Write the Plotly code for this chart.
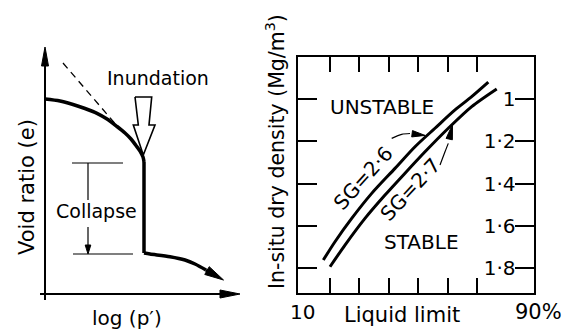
import math
import plotly.graph_objects as go

W, H = 578, 329
FONT = "DejaVu Sans"

# ---------------- Left panel: schematic collapse curve ----------------
# units: pixels measured from the axes origin (schematic, no numeric scale)
upper_logp = [0, 15, 28, 40, 52, 62, 72, 80, 86, 91, 95, 98, 99]
upper_e = [195, 193, 189.5, 185.5, 180.7, 175, 167.5, 161, 155, 148.5, 143, 137, 132]
drop_logp = [99, 99]
drop_e = [132, 41]
lower_logp = [99, 105, 125, 140, 150, 161]
lower_e = [41, 40, 37.3, 34, 30, 24]
lower_tip = (178.5, 14)
tangent_logp = [18, 73]
tangent_e = [231, 167]
axis_x_len = 195
axis_y_len = 247
inund_x = [90, 106.7, 104, 110, 98.3, 88.3, 93.3, 90]
inund_y = [197, 197, 169, 169, 139, 169, 169, 197]
collapse_top_e = 131
collapse_bot_e = 40
collapse_top_x = [27, 78]
collapse_bot_x = [28, 88]
collapse_bar_x = 43
collapse_gap = [94, 67]

# ---------------- Right panel: dry density vs liquid limit ----------------
ll_ticks = [20, 30, 40, 50, 60, 70, 80]
dens_ticks = [1.0, 1.2, 1.4, 1.6, 1.8]
dens_labels = ["1", "1·2", "1·4", "1·6", "1·8"]
sg26_ll = [17.9, 21.86, 27.53, 34.31, 42.2, 48.98, 55.76, 62.54, 68.2, 73.83]
sg26_d = [1.764, 1.677, 1.566, 1.447, 1.328, 1.225, 1.137, 1.050, 0.987, 0.918]
sg27_ll = [20.17, 25.25, 32.03, 38.81, 45.59, 52.37, 60.27, 68.2, 76.68]
sg27_d = [1.796, 1.693, 1.566, 1.455, 1.351, 1.249, 1.137, 1.034, 0.950]
lead26_ll = [41.08, 44.47, 47.29]
lead26_d = [1.185, 1.166, 1.162]
lead26_tip = (52.37, 1.171)
lead27_ll = [57.46, 59.15, 60.27]
lead27_d = [1.312, 1.249, 1.209]
lead27_tip = (61.69, 1.119)

# axis geometry (pixels)
LX0, LY0 = 45, 294          # left origin
RX_L, RX_R = 298, 533.5     # right box
RY_T, RY_B = 57, 293
X_RANGE2 = [9.32, 89.15]
Y_RANGE2 = [1.921, 0.798]
SX2 = (RX_R - RX_L) / (X_RANGE2[1] - X_RANGE2[0])
SY2 = (RY_B - RY_T) / (Y_RANGE2[0] - Y_RANGE2[1])


def tri(base, tip, sx, sy, halfw):
    bx, by = base[0] * sx, base[1] * sy
    tx, ty = tip[0] * sx, tip[1] * sy
    dx, dy = tx - bx, ty - by
    L = math.hypot(dx, dy)
    nx, ny = -dy / L * halfw, dx / L * halfw
    xs = [tx, bx + nx, bx - nx, tx]
    ys = [ty, by + ny, by - ny, ty]
    return [v / sx for v in xs], [v / sy for v in ys]


def head(base, tip, length, sx, sy, halfw):
    dx, dy = (tip[0] - base[0]) * sx, (tip[1] - base[1]) * sy
    L = math.hypot(dx, dy)
    b = (tip[0] - dx / L * length / sx, tip[1] - dy / L * length / sy)
    return tri(b, tip, sx, sy, halfw)


fig = go.Figure()
L = dict(xaxis="x", yaxis="y")
R = dict(xaxis="x2", yaxis="y2")
blk = "black"


def line(x, y, w, ax, dash="solid", shape="linear"):
    fig.add_trace(go.Scatter(x=x, y=y, mode="lines", showlegend=False, hoverinfo="skip",
                             line=dict(color=blk, width=w, dash=dash, shape=shape, smoothing=0.8),
                             **ax))


def poly(xy, ax):
    fig.add_trace(go.Scatter(x=xy[0], y=xy[1], mode="lines", fill="toself", fillcolor=blk,
                             line=dict(color=blk, width=1), showlegend=False, hoverinfo="skip", **ax))


# left axes
line([-5, axis_x_len - 18], [0, 0], 2, L)
poly(tri((axis_x_len - 20, 0), (axis_x_len, 0), 1, 1, 4), L)
line([0, 0], [-6, axis_y_len - 17], 2, L)
poly(tri((0, axis_y_len - 19), (0, axis_y_len), 1, 1, 3.5), L)
# curve
line(upper_logp, upper_e, 3.5, L, shape="spline")
line(drop_logp, drop_e, 3.5, L)
line(lower_logp, lower_e, 3.5, L, shape="spline")
poly(head((lower_logp[-1], lower_e[-1]), lower_tip, 19, 1, 1, 4.5), L)
line([lower_logp[-1], lower_tip[0] - 10], [lower_e[-1], lower_tip[1] + 5.7], 3.5, L)
line(tangent_logp, tangent_e, 1.3, L, dash="7px,5px")
line(inund_x, inund_y, 1.6, L)
# collapse marker
line(collapse_top_x, [collapse_top_e] * 2, 1.2, L)
line(collapse_bot_x, [collapse_bot_e] * 2, 1.2, L)
line([collapse_bar_x] * 2, [collapse_top_e, collapse_gap[0]], 1.2, L)
line([collapse_bar_x] * 2, [collapse_gap[1], collapse_bot_e + 6], 1.2, L)
poly(tri((collapse_bar_x, collapse_bot_e + 9), (collapse_bar_x, collapse_bot_e), 1, 1, 2.8), L)

# right panel curves
line(sg26_ll, sg26_d, 3, R, shape="spline")
line(sg27_ll, sg27_d, 3, R, shape="spline")
line(lead26_ll, lead26_d, 1.2, R, shape="spline")
poly(head((lead26_ll[-1], lead26_d[-1]), lead26_tip, 13, SX2, SY2, 3.2), R)
line(lead27_ll, lead27_d, 1.2, R, shape="spline")
poly(head((lead27_ll[-1], lead27_d[-1]), lead27_tip, 15, SX2, SY2, 3.2), R)

f = lambda s: dict(family=FONT, size=s, color=blk)
ann = [
    dict(text="Inundation", x=113.3, y=216, xref="x", yref="y", font=f(19)),
    dict(text="Collapse", x=51, y=83, xref="x", yref="y", font=f(19)),
    dict(text="Void ratio (e)", x=-18, y=107, xref="x", yref="y", textangle=-90, font=f(21)),
    dict(text="log (p′)", x=82, y=-24, xref="x", yref="y", font=f(20)),
    dict(text="UNSTABLE", x=37.7, y=1.038, xref="x2", yref="y2", font=f(20)),
    dict(text="STABLE", x=51.25, y=1.677, xref="x2", yref="y2", font=f(20)),
    dict(text="SG=2·6", x=31.46, y=1.375, xref="x2", yref="y2", textangle=-48, font=f(20)),
    dict(text="SG=2·7", x=47.56, y=1.427, xref="x2", yref="y2", textangle=-47, font=f(20)),
    dict(text="10", x=302 / W, y=1 - 312 / H, xref="paper", yref="paper", font=f(20)),
    dict(text="Liquid limit", x=402 / W, y=1 - 315 / H, xref="paper", yref="paper", font=f(21)),
    dict(text="90%", x=538 / W, y=1 - 312 / H, xref="paper", yref="paper", font=f(21)),
    dict(text="In-situ dry density (Mg/m<sup>3</sup>)", x=275 / W, y=1 - 152 / H,
         xref="paper", yref="paper", textangle=-90, font=f(20.5)),
]
for a in ann:
    a["showarrow"] = False
    a["xanchor"] = "center"
    a["yanchor"] = "middle"

hidden = dict(visible=False, showgrid=False, zeroline=False, fixedrange=True)
fig.update_layout(
    width=W, height=H, margin=dict(l=0, r=0, t=0, b=0),
    paper_bgcolor="white", plot_bgcolor="rgba(0,0,0,0)",
    annotations=ann,
    xaxis=dict(domain=[0, 290 / W], range=[-LX0, 290 - LX0], **hidden),
    yaxis=dict(domain=[0, 1], range=[LY0 - H, LY0], **hidden),
    xaxis2=dict(domain=[RX_L / W, RX_R / W], range=X_RANGE2, anchor="y2",
                tickvals=ll_ticks, ticks="inside", ticklen=15, tickwidth=1.5, tickcolor=blk,
                showticklabels=False, showline=True, linecolor=blk, linewidth=2, mirror="ticks",
                showgrid=False, zeroline=False, fixedrange=True),
    yaxis2=dict(domain=[1 - RY_B / H, 1 - RY_T / H], range=Y_RANGE2, anchor="x2", side="right",
                tickvals=dens_ticks, ticktext=dens_labels, ticks="inside", ticklen=19, tickwidth=1.5,
                tickcolor=blk, ticklabelposition="inside", tickfont=f(20),
                showline=True, linecolor=blk, linewidth=2, mirror="ticks",
                showgrid=False, zeroline=False, fixedrange=True),
)
fig.write_html("out.html", config={"displayModeBar": False},
               post_script="document.body.style.margin='0';document.body.style.padding='0';")
